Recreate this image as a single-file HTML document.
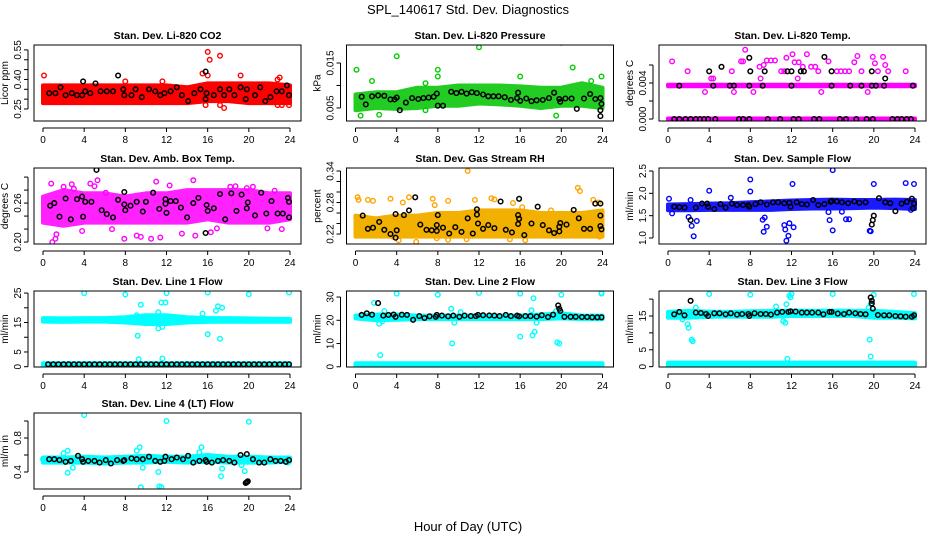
<!DOCTYPE html>
<html><head><meta charset="utf-8"><style>
html,body{margin:0;padding:0;background:#fff}
svg{display:block;font-family:"Liberation Sans",sans-serif}
</style></head><body>
<svg id="chart" width="936" height="540" viewBox="0 0 936 540">
<text x="468" y="14" text-anchor="middle" font-size="13">SPL_140617  Std. Dev. Diagnostics</text>
<text x="468" y="531" text-anchor="middle" font-size="13">Hour of Day (UTC)</text>
</svg>
<script>
const hours13 = [0,2,4,6,8,10,12,14,16,18,20,22,24];
const xTicks = [0,4,8,12,16,20,24];

// CO2
const co2Lo = [0.28,0.28,0.28,0.28,0.28,0.28,0.28,0.28,0.29,0.29,0.28,0.28,0.28];
const co2Hi = [0.37,0.37,0.37,0.37,0.37,0.37,0.37,0.36,0.38,0.38,0.38,0.38,0.37];
const co2Out = [[16,0.54],[16.2,0.50],[17.2,0.52],[15.5,0.43],[16,0.42],[0.1,0.42],[17.6,0.255],[22.8,0.27],[23.2,0.27],[19.2,0.42],[8,0.39],[11.6,0.39],[17.2,0.27],[15.8,0.27],[23.9,0.27],[22.8,0.40],[23,0.41]];
const co2Blk = [[0.6,0.33],[1.2,0.33],[1.7,0.36],[2.2,0.32],[2.8,0.33],[3.3,0.32],[3.8,0.32],[3.9,0.39],[4.1,0.34],[4.6,0.33],[5.1,0.38],[5.6,0.34],[6.2,0.34],[6.8,0.34],[7.3,0.42],[7.8,0.35],[7.9,0.32],[8.6,0.32],[9,0.35],[9.6,0.31],[10.3,0.35],[10.9,0.34],[11.4,0.32],[11.8,0.33],[12.4,0.34],[13,0.36],[13.5,0.32],[14.1,0.29],[14.7,0.33],[15.3,0.35],[15.8,0.44],[15.8,0.30],[15.9,0.33],[16.6,0.32],[17.2,0.35],[17.6,0.32],[18.1,0.35],[18.6,0.32],[19.2,0.36],[19.8,0.35],[19.7,0.30],[20.6,0.32],[21.1,0.36],[21.6,0.29],[22.1,0.31],[22.7,0.34],[23.2,0.34],[23.7,0.37],[23.9,0.32]];
// Pressure
const prLo = [0.0045,0.005,0.0048,0.005,0.0055,0.0055,0.006,0.0058,0.0055,0.005,0.0055,0.0055,0.005];
const prHi = [0.008,0.0085,0.0085,0.0095,0.0095,0.010,0.010,0.010,0.0098,0.0095,0.0095,0.0105,0.0095];
const prOut = [[0.1,0.0135],[4,0.0165],[12,0.0185],[20,0.0195],[21.1,0.014],[23.9,0.012],[8,0.0135],[8,0.012],[2.3,0.0035],[19.5,0.0033],[0.5,0.0033],[6.8,0.0045],[1.6,0.011],[22.9,0.011],[16,0.012],[6.8,0.0105]];
const prBlk = [[0.6,0.0075],[1,0.0058],[1.6,0.0076],[2.2,0.0078],[2.8,0.0077],[3.4,0.0069],[3.8,0.0069],[4,0.0073],[4.3,0.0045],[4.9,0.0062],[5.5,0.0072],[6.1,0.0070],[6.6,0.0072],[7.1,0.0073],[7.6,0.0075],[7.9,0.0082],[8,0.0055],[8.5,0.0055],[9.3,0.0086],[9.8,0.0083],[10.3,0.0086],[10.8,0.0082],[11.3,0.0085],[11.8,0.0083],[12.4,0.0080],[12.9,0.0076],[13.4,0.0076],[13.9,0.0076],[14.5,0.0074],[15.1,0.0068],[15.7,0.0072],[15.8,0.0084],[16,0.0066],[16.6,0.0071],[17.1,0.0065],[17.6,0.0067],[18.2,0.0068],[18.8,0.0072],[19.3,0.0084],[19.8,0.007],[19.9,0.0064],[20.4,0.0071],[21,0.0071],[21.5,0.0048],[22.2,0.0071],[22.8,0.0081],[23.3,0.0070],[23.8,0.0072],[23.8,0.0045],[23.9,0.0059],[23.8,0.0032]];
// Li-820 temp
const tpLoA = [0.00365,0.00365,0.00365,0.00365,0.00365,0.00365,0.00365,0.00365,0.00365,0.00365,0.00365,0.00365,0.00365];
const tpHiA = [0.0038,0.0038,0.0038,0.0038,0.0038,0.0038,0.0038,0.0038,0.0038,0.0038,0.0038,0.0038,0.0038];
const tpLoB = [-0.00004,-0.00004,-0.00004,-0.00004,-0.00004,-0.00004,-0.00004,-0.00004,-0.00004,-0.00004,-0.00004,-0.00004,-0.00004];
const tpHiB = [0.00006,0.00006,0.00006,0.00006,0.00006,0.00006,0.00006,0.00006,0.00006,0.00006,0.00006,0.00006,0.00006];
const tpOut = [[0.4,0.0064],[1.9,0.0053],[3.6,0.003],[4.2,0.0045],[6.2,0.0053],[6.4,0.003],[7.1,0.0064],[7.3,0.0064],[7.5,0.0077],[8.3,0.003],[8.9,0.0058],[9.3,0.006],[9.6,0.0065],[10,0.0065],[10.4,0.0065],[11,0.0053],[11.5,0.0068],[12.1,0.0072],[12.3,0.0063],[12.7,0.0063],[13.1,0.0058],[13.5,0.0072],[13.9,0.0058],[14.3,0.0058],[14.9,0.003],[15.6,0.0064],[16.4,0.0053],[17.2,0.0053],[18.1,0.0063],[18.4,0.007],[18.8,0.0053],[19.4,0.003],[19.9,0.0069],[20.1,0.0062],[20.4,0.0053],[20.9,0.0069],[21.1,0.006],[21.4,0.0053],[23.1,0.0053],[9,0.0045],[4.4,0.0045],[12.6,0.0045],[14.6,0.0053],[16.8,0.0053],[17.6,0.0053],[11.3,0.0053]];
const tpBlk = [[0.6,0],[1.1,0],[1.7,0],[2.2,0],[2.7,0],[3.1,0],[3.5,0],[3.9,0],[4.6,0],[6.9,0],[7.3,0],[7.9,0],[9.7,0],[10.9,0],[12.2,0],[12.7,0],[14.2,0],[14.7,0],[16.7,0],[17.3,0],[18.3,0],[19.3,0],[19.9,0],[21.8,0],[22.3,0],[22.7,0],[23.2,0],[23.6,0],[1.1,0.0037],[4.4,0.0037],[6,0.0037],[6.4,0.0037],[7.9,0.0037],[9.2,0.0037],[12,0.0037],[15.9,0.0037],[17.7,0.0037],[18.8,0.0037],[19.8,0.0037],[20.2,0.0037],[21,0.0037],[23.8,0.0037],[4,0.0053],[8,0.0053],[9.4,0.0053],[11.6,0.0053],[12,0.0053],[12.9,0.0053],[13.2,0.0053],[15.9,0.0053],[19.8,0.0053],[5.2,0.0058],[7.9,0.0068],[15.2,0.0069],[21.1,0.0045]];
// Amb box temp
const abLo = [0.23,0.225,0.23,0.23,0.23,0.23,0.23,0.23,0.235,0.23,0.23,0.23,0.235];
const abHi = [0.27,0.28,0.275,0.275,0.27,0.275,0.275,0.28,0.28,0.28,0.28,0.275,0.275];
const abOut = [[0.8,0.290],[1.3,0.212],[1.2,0.205],[0.9,0.200],[2.8,0.289],[3,0.282],[4.6,0.290],[5,0.286],[5.3,0.295],[6.1,0.276],[7.9,0.205],[9.1,0.21],[9.5,0.208],[10.5,0.205],[11.4,0.207],[13.5,0.213],[14.6,0.295],[14.8,0.21],[16.9,0.221],[18.2,0.285],[18.7,0.286],[19.8,0.283],[20.4,0.285],[22.5,0.279],[11,0.293],[12.3,0.287],[3.8,0.217],[2,0.285],[21.8,0.221],[23.2,0.22],[6.7,0.22],[16.3,0.215]];
const abBlk = [[0.7,0.256],[1.1,0.260],[1.6,0.239],[2.2,0.267],[2.7,0.235],[3.3,0.266],[3.8,0.270],[3.9,0.239],[4.1,0.262],[4.7,0.262],[5.2,0.311],[5.7,0.249],[6.2,0.243],[6.8,0.238],[7.3,0.265],[7.9,0.277],[7.9,0.258],[8,0.249],[8.5,0.256],[9.1,0.262],[9.7,0.247],[10,0.262],[10.7,0.276],[11.3,0.251],[11.9,0.266],[11.9,0.259],[12,0.245],[12.4,0.263],[12.9,0.263],[13.4,0.253],[14,0.238],[14.6,0.260],[15.1,0.268],[15.8,0.214],[15.9,0.257],[16,0.248],[16.6,0.252],[17.2,0.274],[17.7,0.235],[18.3,0.275],[18.8,0.248],[19.3,0.273],[19.9,0.261],[19.8,0.252],[20.6,0.241],[21.2,0.276],[21.7,0.244],[22.2,0.263],[22.8,0.244],[23.3,0.244],[23.8,0.268],[23.9,0.262],[23.9,0.238]];
// Gas stream RH
const rhLo = [0.215,0.215,0.215,0.215,0.215,0.215,0.215,0.215,0.215,0.215,0.215,0.215,0.215];
const rhHi = [0.255,0.25,0.255,0.255,0.26,0.26,0.265,0.265,0.265,0.26,0.26,0.26,0.265];
const rhOut = [[0.2,0.29],[0.3,0.285],[1.2,0.285],[1.7,0.283],[3.4,0.287],[4.6,0.28],[5.2,0.29],[7.5,0.287],[7.7,0.275],[9,0.283],[10.9,0.34],[11.6,0.285],[13.2,0.288],[13.5,0.286],[15.3,0.279],[16.2,0.271],[19,0.265],[21.6,0.308],[21.8,0.302],[23.1,0.285],[23.6,0.28],[4.2,0.208],[3.6,0.215],[9,0.209],[10.8,0.21],[15,0.21],[16.5,0.208],[23.7,0.215],[5.9,0.205],[7.9,0.212]];
const rhBlk = [[0.7,0.255],[1.2,0.23],[1.7,0.232],[2.3,0.243],[2.8,0.228],[3.4,0.22],[3.9,0.213],[3.9,0.258],[4,0.227],[4.7,0.256],[5.2,0.265],[5.8,0.29],[6.3,0.238],[6.9,0.228],[7.4,0.227],[7.9,0.237],[7.9,0.226],[8,0.256],[8.5,0.232],[9.1,0.221],[9.7,0.233],[10.3,0.224],[10.9,0.25],[11.4,0.221],[11.8,0.267],[11.8,0.257],[11.9,0.24],[12.4,0.23],[12.9,0.237],[13.5,0.231],[14.1,0.282],[14.6,0.228],[15.2,0.223],[15.8,0.256],[15.9,0.249],[15.9,0.287],[15.8,0.239],[16.4,0.218],[17.1,0.24],[17.7,0.272],[18.2,0.237],[18.8,0.227],[19.3,0.222],[19.8,0.234],[19.8,0.225],[19.9,0.241],[20.5,0.238],[21.2,0.266],[21.7,0.25],[22.2,0.23],[22.8,0.23],[23.3,0.278],[23.8,0.278],[23.8,0.255],[23.8,0.235],[23.9,0.229]];
// Sample flow
const sfLo = [1.62,1.62,1.63,1.63,1.63,1.63,1.65,1.66,1.66,1.67,1.68,1.67,1.65];
const sfHi = [1.75,1.76,1.77,1.78,1.8,1.82,1.84,1.85,1.86,1.85,1.85,1.86,1.85];
const sfOut = [[0.1,1.88],[0.4,1.55],[2,1.47],[2.2,1.85],[2.3,1.27],[2.5,1.04],[2.8,1.38],[4,2.06],[6.1,1.9],[8,2.31],[8,2.04],[9.2,1.41],[9.3,1.14],[9.4,1.46],[9.6,1.25],[11.3,1.29],[11.4,1.19],[11.5,0.94],[11.7,1.05],[11.8,1.33],[12.1,2.21],[12.2,1.24],[15.6,1.58],[15.7,1.40],[16,2.52],[16,1.17],[16.9,1.59],[17.3,1.42],[17.6,1.42],[19.6,1.16],[19.7,1.15],[20,2.21],[23.1,2.23],[23.9,2.21],[23.6,1.63]];
const sfBlk = [[0.6,1.7],[1.1,1.69],[1.6,1.68],[2.2,1.40],[2.7,1.68],[3.3,1.77],[3.8,1.77],[3.9,1.7],[4.5,1.65],[5.1,1.76],[5.6,1.68],[6.2,1.77],[6.7,1.74],[7.3,1.74],[7.8,1.74],[7.9,1.7],[8.5,1.76],[9,1.8],[9.6,1.75],[10.2,1.8],[10.7,1.8],[11.3,1.78],[11.8,1.79],[11.9,1.7],[12.5,1.8],[13,1.76],[13.5,1.75],[14.1,1.85],[14.6,1.74],[15.2,1.76],[15.8,1.81],[15.9,1.83],[16.4,1.82],[16.9,1.8],[17.5,1.78],[18.1,1.82],[18.6,1.79],[19.2,1.8],[19.8,1.3],[19.9,1.4],[20,1.5],[20.5,1.89],[21.1,1.8],[21.6,1.78],[22.1,1.6],[22.7,1.77],[23.2,1.81],[23.7,1.88],[23.8,1.66],[23.9,1.77]];
// Line 1
const l1Lo = [15.3,15.2,15.3,15.3,15,14.5,14.5,15,15.2,15.3,15.2,15.3,15.2];
const l1Hi = [16.5,16.4,16.5,16.5,16.8,17.5,17.5,16.8,16.5,16.5,16.4,16.3,16.2];
const l1ZeroLo = [0.3,0.3,0.3,0.3,0.3,0.3,0.3,0.3,0.3,0.3,0.3,0.3,0.3];
const l1ZeroHi = [1.2,1.2,1.2,1.2,1.2,1.2,1.2,1.2,1.2,1.2,1.2,1.2,1.2];
const l1Out = [[4,25],[8,24.5],[12,25],[16,25.2],[20,24.6],[23.9,25.2],[9.5,21],[11.5,21.8],[11.9,21.8],[17,20.5],[17.4,20],[9.2,10.5],[16,11],[17.2,9.5],[9.3,2.5],[11.6,2.8],[11.2,18.5],[15.5,18],[16.8,19],[11.6,13.5],[11.2,13],[9.1,17.5]];
const l1Blk = [[0.5,0.8],[1,0.8],[1.5,0.8],[2,0.8],[2.5,0.8],[3,0.8],[3.5,0.8],[4,0.8],[4.5,0.8],[5,0.8],[5.5,0.8],[6,0.8],[6.5,0.8],[7,0.8],[7.5,0.8],[8,0.8],[8.5,0.8],[9,0.8],[9.5,0.8],[10,0.8],[10.5,0.8],[11,0.8],[11.5,0.8],[12,0.8],[12.5,0.8],[13,0.8],[13.5,0.8],[14,0.8],[14.5,0.8],[15,0.8],[15.5,0.8],[16,0.8],[16.5,0.8],[17,0.8],[17.5,0.8],[18,0.8],[18.5,0.8],[19,0.8],[19.5,0.8],[20,0.8],[20.5,0.8],[21,0.8],[21.5,0.8],[22,0.8],[22.5,0.8],[23,0.8],[23.5,0.8],[23.9,0.8]];
// Line 2
const l2Lo = [20.8,20,20.2,20.5,20.5,20.5,20.5,20.5,20.5,20.5,20.8,20.5,20.5];
const l2Hi = [22,22.5,22.5,22,22,22,22,22,22,22.5,23,22,22];
const l2ZeroLo = [0,0,0,0,0,0,0,0,0,0,0,0,0];
const l2ZeroHi = [1.5,1.5,1.5,1.5,1.5,1.5,1.5,1.5,1.5,1.5,1.5,1.5,1.5];
const l2Out = [[4,31.5],[8,31],[12,31.8],[16,31.5],[20,31],[23.9,31.5],[23.9,31.8],[1.8,27.5],[2.8,24],[2.6,19.5],[2.4,5],[9.3,25],[9.4,10],[9.6,19],[10.2,23.5],[16,13],[17.2,13.5],[17.4,15],[17.6,19],[17.3,29.5],[17.1,24.3],[19.6,10.5],[19.8,10],[19.5,24],[2.3,18.5]];
const l2Blk = [[0.6,22.3],[1.1,23],[1.6,22.4],[2.2,27.4],[2.7,22],[3.2,22.3],[3.7,22.5],[3.9,21.5],[4.5,22.4],[5,22.3],[5.6,20.2],[6.2,21.8],[6.7,21],[7.2,21.7],[7.8,21.5],[7.9,22.3],[8.4,22],[9,21.7],[9.5,22],[10.1,21.5],[10.6,22],[11.2,21.8],[11.7,21.8],[11.9,22.3],[12.4,22.2],[13,22.1],[13.5,22],[14,21.8],[14.6,22.3],[15.1,21.8],[15.7,22],[15.9,21.7],[16.5,21.8],[17,21.8],[17.6,21.6],[18.1,22.2],[18.7,21.4],[19.2,22.4],[19.7,26.4],[19.8,25],[19.9,24],[20.3,21.5],[20.9,21.5],[21.4,21.5],[22,21.4],[22.5,21.4],[23,21.3],[23.5,21.3],[23.9,21.3]];
// Line 3
const l3Lo = [14.5,14.5,14.8,14.8,14.8,14.8,15,15,15,15,14.5,14.5,14.3];
const l3Hi = [16.2,16.5,16.3,16.2,16.4,16.5,16.6,16.5,16.6,16.5,16.5,16.2,15.8];
const l3ZeroLo = [0,0,0,0,0,0,0,0,0,0,0,0,0];
const l3ZeroHi = [1.2,1.2,1.2,1.2,1.2,1.2,1.2,1.2,1.2,1.2,1.2,1.2,1.2];
const l3Out = [[4,21.5],[8,21.3],[12,21.5],[16,21.5],[20,21.3],[23.9,21.5],[1.9,12.5],[2,11.5],[2.3,8],[2.4,7.5],[11.4,13],[11.8,21],[11.9,20.5],[11.5,18.5],[11.6,2.3],[19.6,8],[19.7,3],[19.5,17.5],[19.7,18.5],[1.4,14],[2.7,17.5],[11.2,13.5],[10.5,17.8]];
const l3Blk = [[0.6,15.5],[1.1,16.2],[1.6,15.2],[2.2,19.5],[2.7,16],[3.2,15.9],[3.7,15.6],[3.9,15],[4.5,15.8],[5,15.8],[5.6,15.5],[6.1,15.8],[6.7,15.4],[7.2,15.6],[7.8,15.6],[7.9,15],[8.4,15.8],[9,15.6],[9.5,15.6],[10,15.4],[10.6,16],[11.1,16.2],[11.7,16.2],[11.9,16.4],[12.4,16.3],[13,16],[13.5,16],[14,16],[14.6,16],[15.1,15.5],[15.7,16.2],[15.9,16.2],[16.5,15.7],[17.1,15.6],[17.6,16],[18.2,15.8],[18.7,15.6],[19.2,15.5],[19.7,20.5],[19.8,19.5],[19.8,18.7],[19.9,17.2],[20.4,15.3],[21,15.2],[21.5,15.2],[22.1,15],[22.6,14.9],[23.1,14.8],[23.7,14.8],[23.9,15.2]];
// Line 4
const l4Lo = [0.51,0.51,0.51,0.5,0.51,0.51,0.52,0.51,0.52,0.51,0.51,0.51,0.52];
const l4Hi = [0.57,0.57,0.58,0.57,0.58,0.59,0.58,0.58,0.6,0.58,0.58,0.57,0.57];
const l4Out = [[4,1.07],[12,1.0],[20,0.99],[9.5,0.22],[11.3,0.23],[11.5,0.22],[2,0.62],[2.4,0.65],[2.4,0.39],[2.9,0.45],[9.1,0.65],[9.4,0.69],[9.7,0.45],[11.2,0.40],[15.4,0.69],[15.2,0.63],[17.3,0.35],[17.4,0.44],[19.6,0.41],[19.3,0.48],[0,0.55],[23.8,0.51]];
const l4Blk = [[0.6,0.55],[1.1,0.55],[1.6,0.54],[2.2,0.52],[2.7,0.53],[3.4,0.59],[3.8,0.55],[3.9,0.52],[4.4,0.53],[5,0.53],[5.5,0.51],[6.1,0.54],[6.6,0.5],[7.2,0.54],[7.8,0.53],[7.9,0.54],[8.6,0.56],[9.1,0.55],[9.7,0.55],[10.3,0.58],[10.9,0.53],[11.4,0.52],[11.8,0.53],[11.9,0.58],[12.5,0.55],[13,0.57],[13.6,0.55],[14.1,0.59],[14.6,0.51],[15.2,0.53],[15.8,0.54],[15.9,0.52],[16.4,0.51],[17,0.53],[17.5,0.54],[18.1,0.53],[18.6,0.51],[19.2,0.6],[19.8,0.61],[19.7,0.27],[19.8,0.28],[19.9,0.29],[20.4,0.55],[21,0.51],[21.5,0.51],[22.1,0.55],[22.6,0.53],[23.1,0.53],[23.6,0.52],[23.9,0.54]];

const rowsTop = [45,168,291,413];
const panels = [
 {id:'co2',title:'Stan. Dev. Li-820 CO2',ylab:'Licor ppm',c:0,r:0,y0:0.189,y1:0.575,ticks:[0.25,0.30,0.35,0.40,0.45,0.50,0.55],labels:['0.25','0.40','0.55'],col:'#ff0000',bands:[[co2Lo,co2Hi,'#ff0000']],out:co2Out,blk:co2Blk},
 {id:'pressure',title:'Stan. Dev. Li-820 Pressure',ylab:'kPa',c:1,r:0,y0:0.0021,y1:0.019,ticks:[0.005,0.010,0.015],labels:['0.005','0.015'],col:'#00cc00',bands:[[prLo,prHi,'#22cc22']],out:prOut,blk:prBlk},
 {id:'li820-temp',title:'Stan. Dev. Li-820 Temp.',ylab:'degrees C',c:2,r:0,y0:-0.00022,y1:0.00822,ticks:[0,0.002,0.004,0.006],labels:['0.000','0.004'],col:'#ff00ff',bands:[[tpLoA,tpHiA,'#ff00ff'],[tpLoB,tpHiB,'#ff00ff']],out:tpOut,blk:tpBlk},
 {id:'amb-box-temp',title:'Stan. Dev. Amb. Box Temp.',ylab:'degrees C',c:0,r:1,y0:0.197,y1:0.314,ticks:[0.20,0.22,0.24,0.26,0.28,0.30],labels:['0.20','0.26'],col:'#ff00ff',bands:[[abLo,abHi,'#ff22ff']],out:abOut,blk:abBlk},
 {id:'gas-rh',title:'Stan. Dev. Gas Stream RH',ylab:'percent',c:1,r:1,y0:0.201,y1:0.3457,ticks:[0.22,0.24,0.26,0.28,0.30,0.32,0.34],labels:['0.22','0.28','0.34'],col:'#ffa500',bands:[[rhLo,rhHi,'#f2b000']],out:rhOut,blk:rhBlk},
 {id:'sample-flow',title:'Stan. Dev. Sample Flow',ylab:'ml/min',c:2,r:1,y0:0.866,y1:2.567,ticks:[1.0,1.5,2.0,2.5],labels:['1.0','1.5','2.0','2.5'],col:'#0000ff',bands:[[sfLo,sfHi,'#1a1aff']],out:sfOut,blk:sfBlk},
 {id:'line1-flow',title:'Stan. Dev. Line 1 Flow',ylab:'ml/min',c:0,r:2,y0:-0.1,y1:25.7,ticks:[0,5,10,15,20,25],labels:['0','5','15','25'],col:'#00ffff',bands:[[l1Lo,l1Hi,'#00ffff'],[l1ZeroLo,l1ZeroHi,'#00ffff']],out:l1Out,blk:l1Blk},
 {id:'line2-flow',title:'Stan. Dev. Line 2 Flow',ylab:'ml/min',c:1,r:2,y0:-0.1,y1:32.6,ticks:[0,10,20,30],labels:['0','10','20','30'],col:'#00ffff',bands:[[l2Lo,l2Hi,'#00ffff'],[l2ZeroLo,l2ZeroHi,'#00ffff']],out:l2Out,blk:l2Blk},
 {id:'line3-flow',title:'Stan. Dev. Line 3 Flow',ylab:'ml/min',c:2,r:2,y0:-0.1,y1:22.4,ticks:[0,5,10,15,20],labels:['0','5','15'],col:'#00ffff',bands:[[l3Lo,l3Hi,'#00ffff'],[l3ZeroLo,l3ZeroHi,'#00ffff']],out:l3Out,blk:l3Blk},
 {id:'line4-flow',title:'Stan. Dev. Line 4 (LT) Flow',ylab:'ml/m in',c:0,r:3,y0:0.2,y1:1.094,ticks:[0.4,0.6,0.8,1.0],labels:['0.4','0.8'],col:'#00ffff',bands:[[l4Lo,l4Hi,'#00ffff']],out:l4Out,blk:l4Blk}
];

const NS='http://www.w3.org/2000/svg';
const svg=document.getElementById('chart');
function mk(tag,attrs,parent){const e=document.createElementNS(NS,tag);for(const k in attrs)e.setAttribute(k,attrs[k]);(parent||svg).appendChild(e);return e;}

panels.forEach(p=>{
  const L=34+p.c*312.5, R=L+267, T=rowsTop[p.r], B=T+76;
  const x0=L+9, xs=(R-11-x0)/24;
  const X=h=>x0+h*xs;
  const Y=v=>B-(v-p.y0)/(p.y1-p.y0)*(B-T);
  const g=mk('g',{});
  
  
  const clipId='clip-'+p.id;
  const cp=mk('clipPath',{id:clipId},g);
  mk('rect',{x:L,y:T,width:R-L,height:B-T},cp);
  const plot=mk('g',{'clip-path':'url(#'+clipId+')'},g);
  p.bands.forEach((b,bi)=>{
    const pts=[];
    hours13.forEach((h,i)=>pts.push(X(h).toFixed(1)+','+Y(b[1][i]).toFixed(1)));
    for(let i=hours13.length-1;i>=0;i--)pts.push(X(hours13[i]).toFixed(1)+','+Y(b[0][i]).toFixed(1));
    const pg=mk('polygon',{points:pts.join(' '),fill:b[2],stroke:b[2],'stroke-width':4,'stroke-linejoin':'round'},plot);
    
    
  });
  p.out.forEach(d=>{
    const c=mk('circle',{cx:X(d[0]).toFixed(1),cy:Y(d[1]).toFixed(1),r:2.3,fill:'none',stroke:p.col,'stroke-width':1.4},plot);
    
    
  });
  p.blk.forEach(d=>{
    const c=mk('circle',{cx:X(d[0]).toFixed(1),cy:Y(d[1]).toFixed(1),r:2.3,fill:'none',stroke:'#000','stroke-width':1.5},plot);
    
    
  });
  const box=mk('rect',{x:L,y:T,width:R-L,height:B-T,fill:'none',stroke:'#000','stroke-width':1},g);
  
  
  const t=mk('text',{x:(L+R)/2,y:T-6,'text-anchor':'middle','font-size':10.5,'font-weight':'bold'},g);
  t.textContent=p.title;
  
  
  // x axis
  mk('line',{x1:X(0),x2:X(24),y1:B+7,y2:B+7,stroke:'#000'},g);
  xTicks.forEach(h=>{
    mk('line',{x1:X(h),x2:X(h),y1:B+7,y2:B+11,stroke:'#000'},g);
    const tl=mk('text',{x:X(h),y:B+22,'text-anchor':'middle','font-size':10},g);
    tl.textContent=h;
    
    
  });
  // y axis
  mk('line',{x1:L-6,x2:L-6,y1:Y(p.ticks[0]),y2:Y(p.ticks[p.ticks.length-1]),stroke:'#000'},g);
  p.ticks.forEach(v=>mk('line',{x1:L-6,x2:L-10,y1:Y(v),y2:Y(v),stroke:'#000'},g));
  p.labels.forEach(s=>{
    const v=parseFloat(s);
    const yy=Y(v);
    const tl=mk('text',{x:L-13,y:yy,'text-anchor':'middle','font-size':10,transform:'rotate(-90 '+(L-13)+' '+yy+')'},g);
    tl.textContent=s;
    
    
  });
  const yl=mk('text',{x:L-26,y:(T+B)/2,'text-anchor':'middle','font-size':10,transform:'rotate(-90 '+(L-26)+' '+(T+B)/2+')'},g);
  yl.textContent=p.ylab;
  
  
});
</script>
</body></html>
